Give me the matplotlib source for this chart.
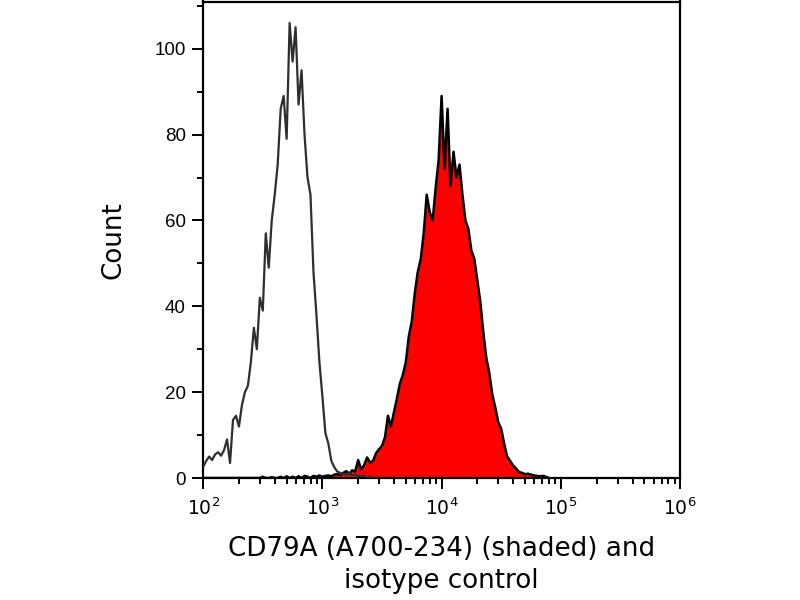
import numpy as np
import matplotlib
matplotlib.use("Agg")
import matplotlib.pyplot as plt
from matplotlib.ticker import LogLocator, MultipleLocator, FuncFormatter

plt.rcParams['font.family'] = ['DejaVu Sans']
plt.rcParams['mathtext.fontset'] = 'custom'
plt.rcParams['mathtext.rm'] = 'Liberation Sans'
plt.rcParams['mathtext.it'] = 'Liberation Sans'

# channel scale: log10 start and bin width (decades)
bin_start = 2.0
bin_step = 0.025

# isotype control counts (unshaded line), starting at 10^2
isotype_counts = [
    2.6, 4.0, 5.0, 4.2, 5.5, 6.0, 5.2, 6.5, 9.0, 3.5,
    13.5, 14.5, 12.0, 17.0, 20.0, 21.5, 27.0, 35.0, 30.0, 42.0,
    39.0, 57.0, 49.0, 60.0, 66.0, 73.0, 86.0, 89.0, 79.0, 106.0,
    97.0, 105.0, 87.0, 95.0, 80.0, 70.0, 66.0, 48.0, 38.0, 27.0,
    19.0, 10.5, 8.0, 4.0, 2.5, 1.5, 1.2, 1.0, 0.8, 1.2,
    0.6, 0.8, 0.5, 0.4, 0.5, 0.2, 0.3, 0.1, 0.0,
]

# CD79A (A700-234) counts (shaded), starting at 10^2
cd79a_counts = [
    0.0, 0.0, 0.0, 0.0, 0.0, 0.0, 0.0, 0.0, 0.0, 0.0,
    0.0, 0.0, 0.0, 0.0, 0.0, 0.0, 0.0, 0.0, 0.0, 0.0,
    0.3, 0.0, 0.0, 0.2, 0.0, 0.0, 0.3, 0.0, 0.4, 0.0,
    0.3, 0.0, 0.4, 0.0, 0.5, 0.3, 0.0, 0.5, 0.3, 0.6,
    0.3, 0.5, 0.6, 0.4, 0.8, 0.9, 0.7, 1.2, 1.6, 1.0,
    1.8, 1.5, 4.2, 2.0, 3.0, 4.8, 3.6, 4.0, 5.8, 6.7,
    7.5, 9.5, 14.5, 12.0, 15.3, 18.5, 22.0, 24.0, 27.0, 33.0,
    36.5, 43.0, 48.0, 51.0, 57.0, 66.0, 62.0, 60.0, 67.5, 74.0,
    89.0, 72.0, 86.0, 68.0, 76.0, 70.0, 73.0, 66.0, 60.0, 58.0,
    53.0, 51.0, 46.0, 41.0, 34.0, 28.0, 24.5, 19.5, 16.5, 13.0,
    11.5, 8.0, 5.0, 4.0, 2.9, 2.2, 1.4, 1.2, 0.9, 1.0,
    0.8, 0.6, 0.5, 0.4, 0.5, 0.3, 0.0,
]

x_label = "CD79A (A700-234) (shaded) and\nisotype control"
y_label = "Count"

iso_x = 10 ** (bin_start + bin_step * np.arange(len(isotype_counts)))
cd_x = 10 ** (bin_start + bin_step * np.arange(len(cd79a_counts)))

fig = plt.figure(figsize=(8, 6), dpi=100)
ax = fig.add_axes([0.254, 0.2033, 0.596, 0.7942])

ax.fill_between(cd_x, cd79a_counts, 0, color='#ff0000', linewidth=0, zorder=2)
ax.plot(cd_x, cd79a_counts, color='black', linewidth=1.8, zorder=3)
ax.plot(iso_x, isotype_counts, color='#2e2e2e', linewidth=1.6, zorder=4)

ax.set_xscale('log')
ax.set_xlim(1e2, 1e6)
ax.set_ylim(0, 111)

ax.xaxis.set_major_locator(LogLocator(base=10, numticks=10))
ax.xaxis.set_minor_locator(LogLocator(base=10, subs=np.arange(2, 10), numticks=50))
ax.xaxis.set_major_formatter(FuncFormatter(
    lambda v, p: r'$\mathregular{10^{%d}}$' % int(round(np.log10(v)))))
ax.yaxis.set_major_locator(MultipleLocator(20))
ax.yaxis.set_minor_locator(MultipleLocator(10))

for s in ax.spines.values():
    s.set_linewidth(1.6)
    s.set_color('black')

ax.tick_params(axis='both', which='major', direction='out', length=8, width=1.4,
               labelsize=13.5, colors='black')
ax.tick_params(axis='y', which='major', pad=4.5)
ax.tick_params(axis='x', which='major', pad=6)
ax.tick_params(axis='both', which='minor', direction='out', length=4.5, width=1.4)
for lab in ax.get_yticklabels():
    lab.set_fontfamily('Liberation Sans')

ax.set_ylabel(y_label, fontsize=18.8, labelpad=20)
ax.set_xlabel(x_label, fontsize=18.8, labelpad=12, linespacing=1.32)

fig.savefig("out.png", dpi=100)
